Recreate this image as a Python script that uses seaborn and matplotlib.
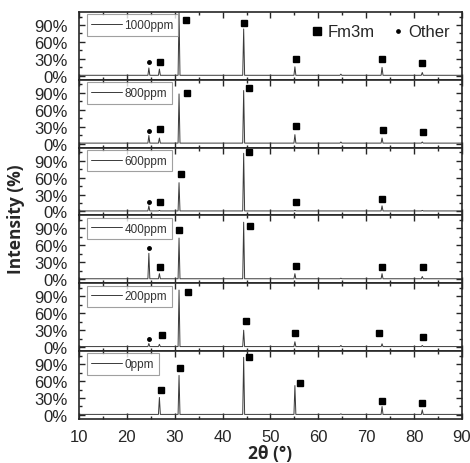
import numpy as np
import pandas as pd
import matplotlib
matplotlib.use("Agg")
import matplotlib.pyplot as plt
from matplotlib.lines import Line2D
from matplotlib.ticker import MultipleLocator, PercentFormatter
import seaborn as sns

samples = ["1000ppm", "800ppm", "600ppm", "400ppm", "200ppm", "0ppm"]

# peak positions (2theta) and peak heights (%)
peak_pos = [24.6, 26.8, 30.9, 44.4, 55.1, 64.7, 73.3, 81.7]
peak_h = {
    "1000ppm": [14, 12, 112, 83, 16, 3, 15, 6],
    "800ppm": [14.5, 10, 88, 94, 16, 3, 10, 3],
    "600ppm": [10, 2, 51, 103, 2, 1, 10, 2],
    "400ppm": [46, 10, 73, 101, 10, 2, 10, 5],
    "200ppm": [6.5, 5, 101, 30, 9.5, 3, 6, 3],
    "0ppm": [1, 31, 70, 102, 52, 2, 15, 9],
}
baseline = 1.0

# phase markers
fm_x = {
    "1000ppm": [26.9, 32.3, 44.5, 55.4, 73.2, 81.7],
    "800ppm": [27.0, 32.6, 45.6, 55.3, 73.4, 81.8],
    "600ppm": [27.0, 31.3, 45.6, 55.3, 73.2],
    "400ppm": [27.0, 30.9, 45.8, 55.3, 73.2, 81.9],
    "200ppm": [27.3, 32.8, 44.8, 55.2, 72.6, 81.8],
    "0ppm": [27.1, 31.0, 45.6, 56.1, 73.3, 81.7],
}
fm_y = {
    "1000ppm": [24, 99, 93, 29, 29, 23],
    "800ppm": [26.5, 89, 99, 32, 25, 21],
    "600ppm": [17, 66, 105, 16, 21.6],
    "400ppm": [22, 88, 94, 24, 22, 21],
    "200ppm": [21, 97, 47, 24.5, 24.5, 18.5],
    "0ppm": [44, 83, 102, 57, 25, 21],
}
other_x = {"1000ppm": [24.6], "800ppm": [24.6], "600ppm": [24.6],
           "400ppm": [24.6], "200ppm": [24.6], "0ppm": []}
other_y = {"1000ppm": [25], "800ppm": [22], "600ppm": [17.5],
           "400ppm": [56], "200ppm": [14], "0ppm": []}

sns.set_style("ticks")
plt.rcParams["font.family"] = ["Liberation Sans", "DejaVu Sans"]

fig, axes = plt.subplots(len(samples), 1, figsize=(4.7, 4.64), dpi=100, sharex=True)
fig.subplots_adjust(left=0.168, right=0.983, top=0.972, bottom=0.095, hspace=0)

hw = 0.2
for ax, s in zip(axes, samples):
    xs, ys = [10.0], [baseline]
    for p, h in zip(peak_pos, peak_h[s]):
        xs += [p - hw, p, p + hw]
        ys += [baseline, h, baseline]
    xs.append(90.0)
    ys.append(baseline)
    df = pd.DataFrame({"x": xs, "y": ys})
    sns.lineplot(data=df, x="x", y="y", ax=ax, color="#3a3a3a", lw=0.7,
                 sort=False, estimator=None, label=s)
    ax.plot(fm_x[s], fm_y[s], ls="none", marker="s", ms=4.5, color="black")
    if other_x[s]:
        ax.plot(other_x[s], other_y[s], ls="none", marker="o", ms=2.5, color="black")

    ax.set_xlim(10, 90)
    ax.set_ylim(-7, 113)
    ax.set_yticks([0, 30, 60, 90])
    ax.yaxis.set_major_formatter(PercentFormatter(decimals=0))
    ax.yaxis.set_minor_locator(MultipleLocator(15))
    ax.xaxis.set_major_locator(MultipleLocator(10))
    ax.xaxis.set_minor_locator(MultipleLocator(5))
    ax.tick_params(which="both", direction="in", top=True, right=True, width=1)
    ax.tick_params(which="major", length=4, labelsize=12)
    ax.tick_params(axis="y", which="major", pad=8)
    ax.tick_params(axis="x", which="major", pad=7)
    ax.tick_params(which="minor", length=2.5)
    ax.set_xlabel("")
    ax.set_ylabel("")
    for sp in ax.spines.values():
        sp.set_linewidth(1.2)
    leg = ax.legend(loc="upper left", bbox_to_anchor=(0.02, 0.965),
                    handlelength=2.6, fontsize=8.5, frameon=True,
                    fancybox=False, borderaxespad=0, borderpad=0.4,
                    handletextpad=0.2, edgecolor="#888888")
    leg.get_frame().set_linewidth(0.8)
    for t in leg.get_texts():
        t.set_color("#333333")

axes[0].add_artist(axes[0].get_legend())
phase_handles = [
    Line2D([], [], ls="none", marker="s", ms=5.5, color="black", label="Fm3m"),
    Line2D([], [], ls="none", marker="o", ms=2.4, color="black", label="Other"),
]
axes[0].legend(handles=phase_handles, loc="upper right", ncol=2, frameon=False,
               fontsize=12, handletextpad=0.1, columnspacing=0.9,
               handlelength=1.0, borderaxespad=0.35)

axes[-1].set_xlabel("2θ (°)", fontsize=12.5, fontweight="bold", labelpad=0,
                    family=["Open Sans", "DejaVu Sans"])
fig.text(0.035, 0.528, "Intensity (%)", rotation=90, va="center", ha="center",
         fontsize=12.5, fontweight="bold", family=["Open Sans", "DejaVu Sans"])

fig.savefig("out.png", dpi=100)
